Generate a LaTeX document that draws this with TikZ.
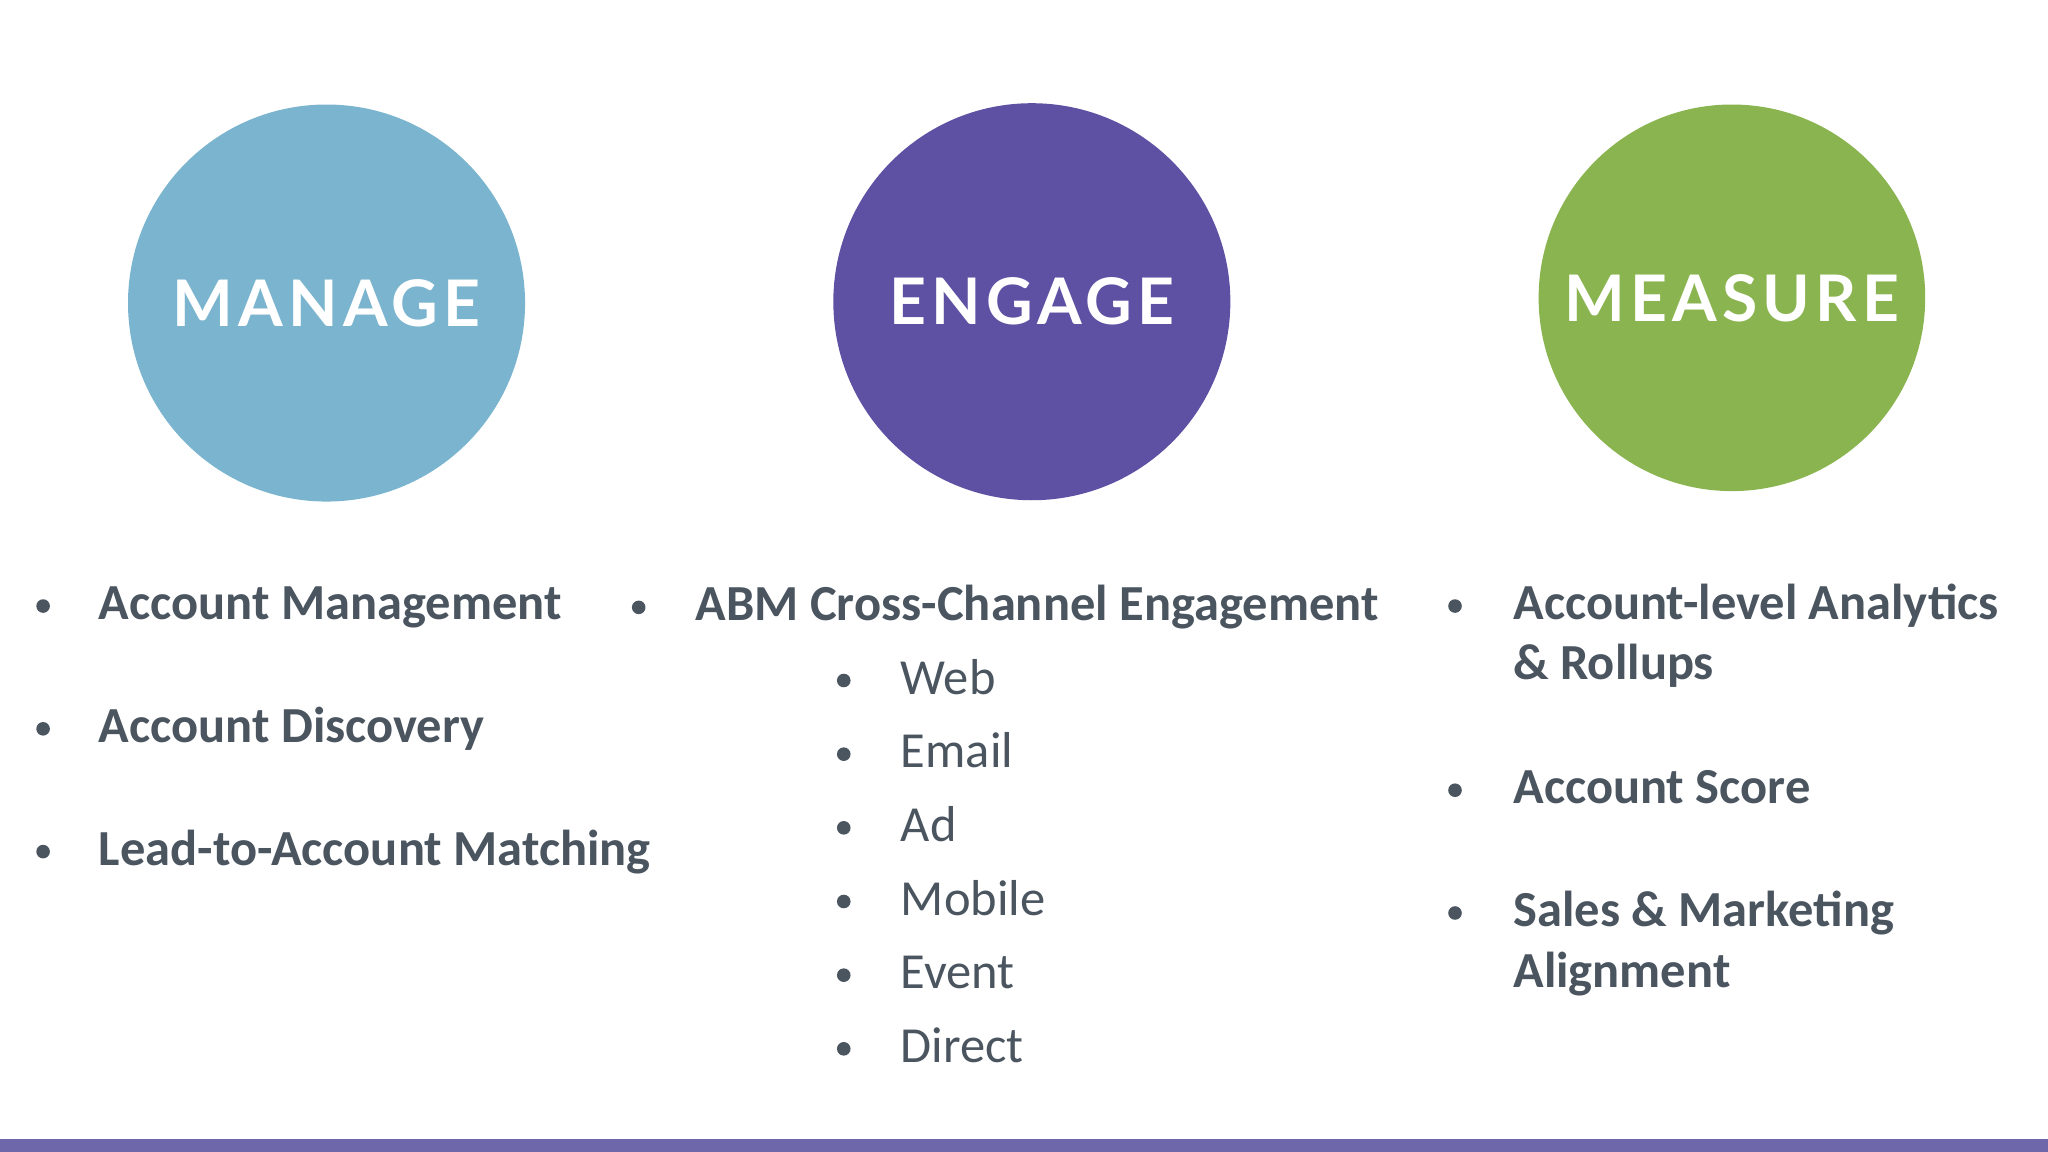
\documentclass[tikz,border=0pt]{standalone}
\usepackage{fontspec}
\setmainfont{Carlito}
\newfontfamily\circfont[LetterSpace=8]{Lato}
\definecolor{cblue}{HTML}{7AB4CE}
\definecolor{cpurple}{HTML}{5E51A3}
\definecolor{cgreen}{HTML}{8AB44F}
\definecolor{cbar}{HTML}{6E68AA}
\definecolor{tgray}{HTML}{4A5560}
\begin{document}
\begin{tikzpicture}[x=0.1mm,y=-0.1mm,
  circ/.style={circle,inner sep=0pt,minimum size=#1*0.2mm},
  ctext/.style={text=white,font=\circfont\bfseries\fontsize{14}{16}\selectfont},
  item/.style={anchor=mid west,inner sep=0pt,text=tgray,font=\bfseries\fontsize{11}{13}\selectfont},
  sub/.style={anchor=mid west,inner sep=0pt,text=tgray,font=\fontsize{11}{13}\selectfont},
  dot/.style={circle,fill=tgray,inner sep=0pt,minimum size=2.6mm*0.4}]
\useasboundingbox (0,0) rectangle (1568,882);
\fill[cbar] (0,872) rectangle (1568,882);
\node[circ=152,fill=cblue] (c1) at (250,232) {};
\node[circ=152,fill=cpurple] (c2) at (790,231) {};
\node[circ=148,fill=cgreen] (c3) at (1326,228) {};
\node[ctext] (t1) at (c1) {MANAGE};
\node[ctext] (t2) at (c2) {ENGAGE};
\node[ctext] (t3) at (c3) {MEASURE};
% left
\node[dot] (d1) at (33,464) {}; \node[item] (l1) at (75,466) {Account Management};
\node[dot] (d2) at (33,558) {}; \node[item] (l2) at (75,560) {Account Discovery};
\node[dot] (d3) at (33,652) {}; \node[item] (l3) at (75,654) {Lead-to-Account Matching};
% middle
\node[dot] (d4) at (489,465) {}; \node[item] (m1) at (532,467) {ABM Cross-Channel Engagement};
\foreach \t [count=\i] in {Web,Email,Ad,Mobile,Event,Direct}{
  \node[dot] (sd\i) at (646,{521+56.4*(\i-1)}) {};
  \node[sub] (s\i) at (689,{523+56.4*(\i-1)}) {\t};
}
% right
\node[dot] (d5) at (1114,464) {}; \node[item] (r1) at (1158,466) {Account-level Analytics};
\node[item] (r1b) at (1158,512) {\& Rollups};
\node[dot] (d6) at (1114,605) {}; \node[item] (r2) at (1158,607) {Account Score};
\node[dot] (d7) at (1114,699) {}; \node[item] (r3) at (1158,701) {Sales \& Marketing};
\node[item] (r3b) at (1158,748) {Alignment};
\end{tikzpicture}
\end{document}
